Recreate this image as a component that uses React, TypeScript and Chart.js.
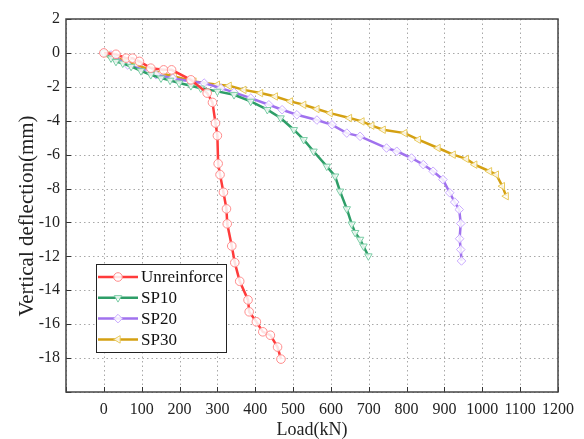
import React, { useEffect, useRef } from 'react';
import { Chart, registerables } from 'chart.js';
import { drawPoint } from 'chart.js/helpers';

Chart.register(...registerables);

// Load (kN) and vertical deflection (mm) for each specimen
const unreinforceLoad = [0, 32, 59, 76, 94, 124, 158, 179, 230, 273, 287, 295, 300, 302, 307, 316, 324, 326, 338, 346, 359, 381, 384, 403, 420, 440, 459, 468];
const unreinforceDefl = [0, -0.08, -0.31, -0.31, -0.5, -0.9, -1.0, -1.0, -1.59, -2.37, -2.92, -4.14, -4.88, -6.53, -7.18, -8.22, -9.2, -10.08, -11.39, -12.37, -13.47, -14.57, -15.27, -15.86, -16.45, -16.65, -17.35, -18.06];

const sp10Load = [0, 19, 32, 50, 72, 98, 124, 151, 175, 199, 230, 256, 300, 344, 388, 432, 467, 502, 528, 554, 589, 611, 624, 642, 655, 664, 677, 686, 699];
const sp10Defl = [0, -0.31, -0.51, -0.61, -0.8, -1.06, -1.29, -1.49, -1.62, -1.78, -1.94, -2.08, -2.27, -2.47, -2.86, -3.35, -3.84, -4.53, -5.12, -5.8, -6.69, -7.27, -8.16, -9.2, -10.1, -10.6, -11.0, -11.4, -11.98];

const sp20Load = [0, 19, 63, 120, 138, 182, 230, 265, 309, 344, 388, 436, 471, 510, 563, 603, 642, 677, 747, 774, 813, 844, 870, 896, 914, 927, 939, 943, 940, 943, 945];
const sp20Defl = [0, -0.12, -0.71, -1.1, -1.29, -1.49, -1.69, -1.78, -2.08, -2.33, -2.67, -3.06, -3.35, -3.65, -3.96, -4.24, -4.73, -4.92, -5.61, -5.8, -6.2, -6.59, -6.98, -7.47, -8.25, -8.8, -9.24, -10.06, -10.96, -11.6, -12.27];

const sp30Load = [0, 10, 35, 63, 85, 124, 151, 186, 238, 300, 331, 370, 414, 453, 493, 528, 563, 598, 649, 682, 708, 738, 795, 831, 883, 923, 958, 980, 1019, 1037, 1053, 1063];
const sp30Defl = [0, -0.12, -0.3, -0.51, -0.71, -1.0, -1.2, -1.39, -1.69, -1.88, -1.94, -2.18, -2.37, -2.57, -2.86, -3.06, -3.31, -3.55, -3.84, -4.04, -4.29, -4.53, -4.73, -5.12, -5.61, -6.0, -6.25, -6.59, -6.98, -7.18, -7.86, -8.45];

const seriesNames = ['Unreinforce', 'SP10', 'SP20', 'SP30'];
const xTickHidden = [-100];
const yTickHidden = [-20];

const FONT = "'Liberation Serif', 'Times New Roman', serif";

const toPoints = (xs: number[], ys: number[]) => xs.map((x, i) => ({ x, y: ys[i] }));

const frameAndTicks = {
  id: 'frameAndTicks',
  beforeDatasetsDraw(chart: any) {
    const { ctx, chartArea } = chart;
    const xs = chart.scales.x;
    const ys = chart.scales.y;
    ctx.save();
    // dotted grid
    ctx.strokeStyle = '#a8a8a8';
    ctx.lineWidth = 1;
    ctx.setLineDash([1.5, 3]);
    ctx.beginPath();
    xs.ticks.forEach((t: any) => {
      const px = Math.round(xs.getPixelForValue(t.value)) + 0.5;
      ctx.moveTo(px, chartArea.top);
      ctx.lineTo(px, chartArea.bottom);
    });
    ys.ticks.forEach((t: any) => {
      const py = Math.round(ys.getPixelForValue(t.value)) + 0.5;
      ctx.moveTo(chartArea.left, py);
      ctx.lineTo(chartArea.right, py);
    });
    ctx.stroke();
    ctx.setLineDash([]);
    // inward ticks
    ctx.strokeStyle = '#333';
    ctx.beginPath();
    xs.ticks.forEach((t: any) => {
      const px = Math.round(xs.getPixelForValue(t.value)) + 0.5;
      ctx.moveTo(px, chartArea.bottom);
      ctx.lineTo(px, chartArea.bottom - 5);
    });
    ys.ticks.forEach((t: any) => {
      const py = Math.round(ys.getPixelForValue(t.value)) + 0.5;
      ctx.moveTo(chartArea.left, py);
      ctx.lineTo(chartArea.left + 5, py);
    });
    ctx.stroke();
    ctx.strokeStyle = '#444';
    ctx.lineWidth = 1.5;
    ctx.strokeRect(chartArea.left, chartArea.top, chartArea.right - chartArea.left, chartArea.bottom - chartArea.top);
    ctx.restore();
  },
};

const boxLegend = {
  id: 'boxLegend',
  afterDraw(chart: any) {
    const { ctx } = chart;
    const left = 96, top = 264, w = 130, h = 88;
    ctx.save();
    ctx.fillStyle = '#fff';
    ctx.fillRect(left, top, w, h);
    ctx.strokeStyle = '#222';
    ctx.lineWidth = 1;
    ctx.strokeRect(left + 0.5, top + 0.5, w, h);
    chart.data.datasets.forEach((ds: any, i: number) => {
      const y = top + 13 + i * 20.8;
      ctx.strokeStyle = ds.borderColor;
      ctx.lineWidth = ds.borderWidth;
      ctx.beginPath();
      ctx.moveTo(left + 2, y);
      ctx.lineTo(left + 42, y);
      ctx.stroke();
      ctx.fillStyle = ds.pointBackgroundColor;
      ctx.strokeStyle = ds.pointBorderColor;
      ctx.lineWidth = ds.pointBorderWidth;
      drawPoint(ctx, { pointStyle: ds.pointStyle, rotation: ds.pointRotation, radius: ds.pointRadius, borderWidth: ds.pointBorderWidth }, left + 22, y);
      ctx.fillStyle = '#111';
      ctx.font = `17px ${FONT}`;
      ctx.textBaseline = 'middle';
      ctx.textAlign = 'left';
      ctx.fillText(ds.label, left + 45, y + 1);
    });
    ctx.restore();
  },
};

export default function App() {
  const ref = useRef<HTMLCanvasElement | null>(null);
  useEffect(() => {
    if (!ref.current) return;
    const mk = (label: string, data: any[], line: string, marker: string, style: string, rot: number) => ({
      label,
      data,
      borderColor: line,
      borderWidth: 2.5,
      pointStyle: style,
      pointRotation: rot,
      pointRadius: 4.3,
      pointBorderWidth: 1,
      pointBorderColor: marker,
      pointBackgroundColor: 'rgba(255,255,255,0.85)',
      showLine: true,
      tension: 0,
    });
    const chart = new Chart(ref.current, {
      type: 'scatter',
      data: {
        datasets: [
          mk(seriesNames[0], toPoints(unreinforceLoad, unreinforceDefl), '#FF3B3B', '#FF8C8C', 'circle', 0),
          mk(seriesNames[1], toPoints(sp10Load, sp10Defl), '#2E9E68', '#78CCA4', 'triangle', 180),
          mk(seriesNames[2], toPoints(sp20Load, sp20Defl), '#A072EE', '#C9AAFF', 'rectRot', 0),
          mk(seriesNames[3], toPoints(sp30Load, sp30Defl), '#D4A012', '#E8C95C', 'triangle', -90),
        ],
      },
      options: {
        animation: false,
        responsive: true,
        maintainAspectRatio: false,
        layout: { padding: { left: 0, top: 19, right: 26, bottom: 0 } },
        plugins: { legend: { display: false }, tooltip: { enabled: false } },
        scales: {
          x: {
            type: 'linear',
            min: -100,
            max: 1200,
            afterFit: (s: any) => { s.height = 47; },
            ticks: {
              stepSize: 100,
              padding: 8,
              maxRotation: 0,
              minRotation: 0,
              autoSkip: false,
              color: '#222',
              font: { family: FONT, size: 16 },
              callback: (v: any) => (xTickHidden.includes(Number(v)) ? '' : String(v)),
            },
            grid: { display: false, drawTicks: false },
            border: { display: false },
            title: { display: true, text: 'Load(kN)', color: '#222', font: { family: FONT, size: 18, lineHeight: 1 }, padding: { top: 0, bottom: 0 } },
          },
          y: {
            type: 'linear',
            min: -20,
            max: 2,
            afterFit: (s: any) => { s.width = 66; },
            ticks: {
              stepSize: 2,
              padding: 6,
              autoSkip: false,
              color: '#222',
              font: { family: FONT, size: 16 },
              callback: (v: any) => (yTickHidden.includes(Number(v)) ? '' : String(v)),
            },
            grid: { display: false, drawTicks: false },
            border: { display: false },
            title: { display: true, text: 'Vertical deflection(mm)    ', color: '#222', font: { family: FONT, size: 21, lineHeight: 1 }, padding: { top: 17, bottom: 0 } },
          },
        },
      },
      plugins: [frameAndTicks, boxLegend],
    });
    return () => chart.destroy();
  }, []);
  return (
    <div style={{ position: 'fixed', left: 0, top: 0, width: 584, height: 439, background: '#fff' }}>
      <canvas ref={ref} />
    </div>
  );
}
